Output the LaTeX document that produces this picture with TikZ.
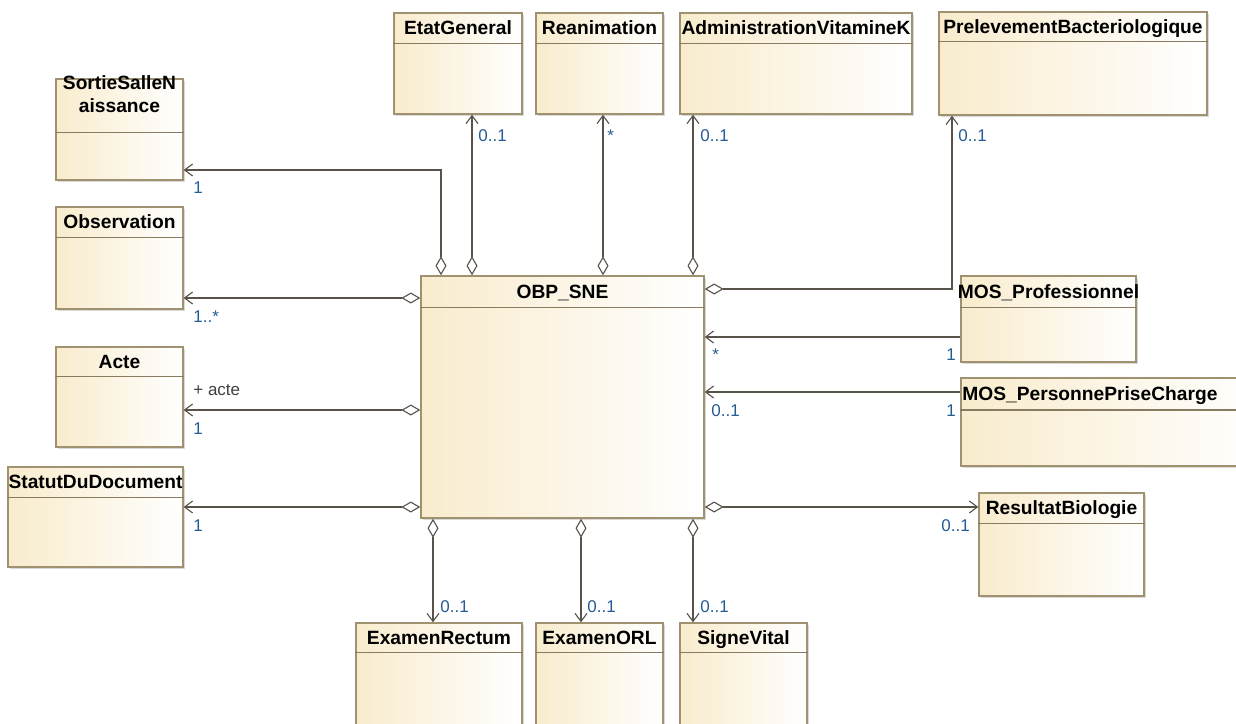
\documentclass[tikz,border=0pt]{standalone}
\usepackage{fontspec}
\setmainfont{Liberation Sans}
\usetikzlibrary{arrows.meta, positioning, fit, calc, shadows}
\definecolor{umlfill}{RGB}{249,236,205}
\definecolor{umlborder}{RGB}{160,145,112}
\definecolor{umlline}{RGB}{88,82,72}
\definecolor{multblue}{RGB}{38,92,150}
\tikzset{
	classbox/.style={draw=umlborder, line width=0.7pt, left color=umlfill, right color=white, inner sep=0pt,
		drop shadow={shadow xshift=0.8pt, shadow yshift=-0.8pt, fill=black, opacity=0.15}},
	classname/.style={font=\fontsize{9.6}{11.5}\selectfont\bfseries, inner sep=0pt, align=center,
		text height=0.72em, text depth=0.05em},
	mult/.style={font=\fontsize{8.5}{10}\selectfont, text=multblue, inner sep=0pt, anchor=base west},
	role/.style={mult, text=black!75},
	aggr/.style={draw=umlline, line width=0.55pt,
		{Diamond[fill=white, length=9.5pt, width=5.5pt]}-{Straight Barb[length=4pt, width=6pt]}},
	nav/.style={draw=umlline, line width=0.55pt, -{Straight Barb[length=4pt, width=6pt]}}
}
% #1 name, #2 #3 corners, #4 header height, #5 title
\newcommand{\umlclass}[5]{%
	\node[classbox, fit={#2 #3}] (#1) {};
	\draw[umlborder!85!black, line width=0.7pt] ($(#1.north west)+(0,#4)$) -- ($(#1.north east)+(0,#4)$);
	\node[classname] (#1-name) at ($(#1.north)+(0,#4/2)$) {#5};
}

\begin{document}
\begin{tikzpicture}[x=0.5pt, y=-0.5pt]
		\useasboundingbox (0,0) rectangle (1236,723);
		\fill[white] (0,0) rectangle (1236,723);
		\clip (0,0) rectangle (1236,723);

		\umlclass{sortie}{(56,79)}{(183,180)}{54}{SortieSalleN\\aissance}
		\umlclass{obs}{(56,207)}{(183,309)}{31}{Observation}
		\umlclass{acte}{(56,347)}{(183,447)}{30}{Acte}
		\umlclass{statut}{(8,467)}{(183,567)}{31}{StatutDuDocument}
		\umlclass{etat}{(394,13)}{(522,114)}{31}{EtatGeneral}
		\umlclass{reanim}{(536,13)}{(663,114)}{31}{Reanimation}
		\umlclass{vitk}{(680,13)}{(912,114)}{31}{AdministrationVitamineK}
		\umlclass{prelev}{(939,12)}{(1207,115)}{30}{PrelevementBacteriologique}
		\umlclass{obp}{(421,276)}{(704,518)}{32}{OBP\_SNE}
		\umlclass{mospro}{(961,276)}{(1136,362)}{32}{MOS\_Professionnel}
		\umlclass{resbio}{(979,493)}{(1144,596)}{31}{ResultatBiologie}
		\umlclass{exrect}{(356,623)}{(522,740)}{30}{ExamenRectum}
		\umlclass{exorl}{(536,623)}{(663,740)}{30}{ExamenORL}
		\umlclass{signe}{(680,623)}{(807,740)}{30}{SigneVital}

		% clipped on the right
		\node[classbox, fit={(961,378) (1260,466)}] (mospers) {};
		\draw[umlborder!85!black, line width=0.7pt] (mospers.west |- 0,410) -- (mospers.east |- 0,410);
		\node[classname, anchor=west] (mospers-name) at (962,394) {MOS\_PersonnePriseCharge};

		\draw[aggr] (obp.north -| 441,0) |- (sortie.east |- 0,170);
		\draw[aggr] (obp.north -| 472,0) -- (etat.south -| 472,0);
		\draw[aggr] (obp.north -| 603,0) -- (reanim.south -| 603,0);
		\draw[aggr] (obp.north -| 693,0) -- (vitk.south -| 693,0);
		\draw[aggr] (obp.east |- 0,289) -| (prelev.south -| 952,0);
		\draw[aggr] (obp.west |- 0,298) -- (obs.east |- 0,298);
		\draw[aggr] (obp.west |- 0,410) -- (acte.east |- 0,410);
		\draw[aggr] (obp.west |- 0,507) -- (statut.east |- 0,507);
		\draw[nav] (mospro.west |- 0,337) -- (obp.east |- 0,337);
		\draw[nav] (mospers.west |- 0,392) -- (obp.east |- 0,392);
		\draw[aggr] (obp.east |- 0,507) -- (resbio.west |- 0,507);
		\draw[aggr] (obp.south -| 433,0) -- (exrect.north -| 433,0);
		\draw[aggr] (obp.south -| 581,0) -- (exorl.north -| 581,0);
		\draw[aggr] (obp.south -| 693,0) -- (signe.north -| 693,0);

		\node[mult] (m-sortie) at (193,193) {1};
		\node[mult] (m-etat) at (478,141) {0..1};
		\node[mult] (m-reanim) at (607,141) {*};
		\node[mult] (m-vitk) at (700,141) {0..1};
		\node[mult] (m-prelev) at (958,141) {0..1};
		\node[mult] (m-obs) at (193,322) {1..*};
		\node[role] (r-acte) at (193,395) {+ acte};
		\node[mult] (m-acte) at (193,434) {1};
		\node[mult] (m-statut) at (193,531) {1};
		\node[mult] (m-obp-pro) at (712,360) {*};
		\node[mult] (m-pro) at (946,360) {1};
		\node[mult] (m-obp-pers) at (711,416) {0..1};
		\node[mult] (m-pers) at (946,416) {1};
		\node[mult] (m-resbio) at (941,531) {0..1};
		\node[mult] (m-exrect) at (440,612) {0..1};
		\node[mult] (m-exorl) at (587,612) {0..1};
		\node[mult] (m-signe) at (700,612) {0..1};
	\end{tikzpicture}
\end{document}
